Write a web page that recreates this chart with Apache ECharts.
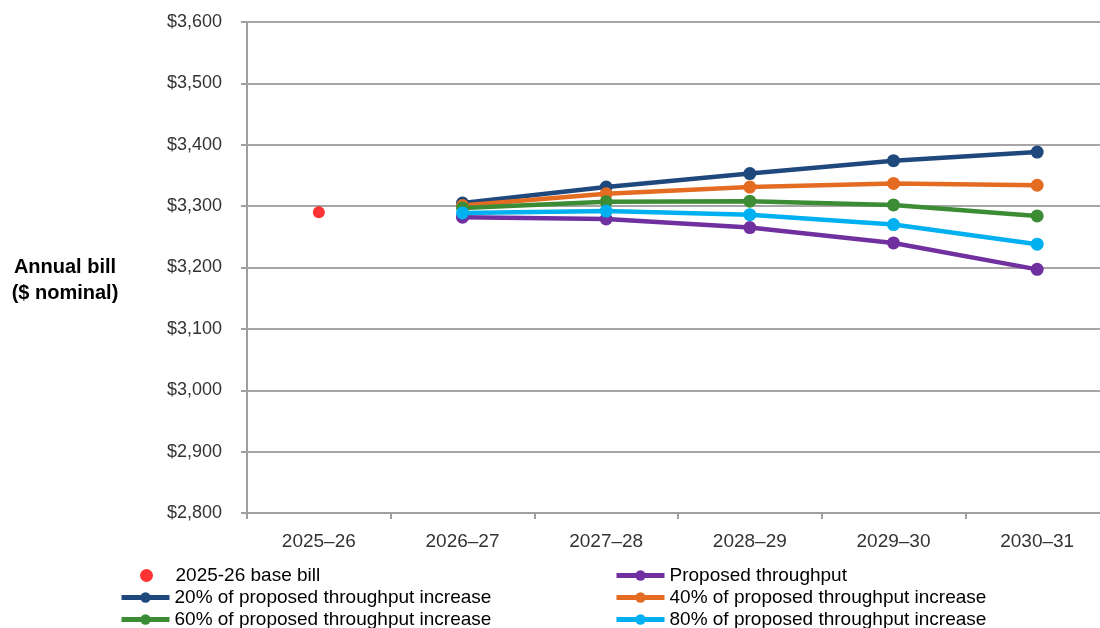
<!DOCTYPE html>
<html>
<head>
<meta charset="utf-8">
<script src="https://cdn.jsdelivr.net/npm/echarts@6/dist/echarts.min.js"></script>
<style>html,body{margin:0;padding:0;background:#fff;overflow:hidden;width:1100px;height:628px;}#c{width:1120px;height:628px;}</style>
</head>
<body>
<div id="c"></div>
<script>
const categories = ['2025–26','2026–27','2027–28','2028–29','2029–30','2030–31'];
const baseBill = [3290, null, null, null, null, null];
const proposed = [null, 3282, 3279, 3265, 3240, 3197];
const pct20 = [null, 3305, 3331, 3353, 3374, 3388];
const pct40 = [null, 3301, 3320, 3331, 3337, 3334];
const pct60 = [null, 3297, 3307, 3308, 3302, 3284];
const pct80 = [null, 3289, 3292, 3286, 3270, 3238];
const yTicks = [2800, 3600, 100];
const legendLeft = ['2025-26 base bill', '20% of proposed throughput increase', '60% of proposed throughput increase'];
const legendRight = ['Proposed throughput', '40% of proposed throughput increase', '80% of proposed throughput increase'];

const FONT = 'Liberation Sans';
const chart = echarts.init(document.getElementById('c'));
function lineSeries(name, data, color) {
  return {
    name, type: 'line', data, color,
    symbol: 'circle', symbolSize: 13,
    lineStyle: { width: 4.5, color },
    itemStyle: { color },
    connectNulls: false, animation: false, z: 3
  };
}
const rowTops = [561, 583, 605];
const legends = [];
function addLegend(name, left, top) {
  legends.push({
    left, top, data: [name],
    itemWidth: 48, itemHeight: 13,
    lineStyle: { width: 5 },
    textStyle: { fontFamily: FONT, fontSize: 19, color: '#000' },
    selectedMode: false
  });
}
legendLeft.forEach((n, i) => addLegend(n, i === 0 ? 135 : 114, rowTops[i]));
legendRight.forEach((n, i) => addLegend(n, 609, rowTops[i]));

chart.setOption({
  animation: false,
  grid: { left: 247, top: 22, height: 491, width: 862 },
  xAxis: {
    type: 'category', data: categories, boundaryGap: true,
    axisLine: { lineStyle: { color: '#a0a0a0', width: 2 } },
    axisTick: { show: true, length: 6, lineStyle: { color: '#a0a0a0', width: 2 } },
    axisLabel: { fontFamily: FONT, fontSize: 19, color: '#333', margin: 19 }
  },
  yAxis: {
    type: 'value', min: yTicks[0], max: yTicks[1], interval: yTicks[2],
    axisLine: { show: true, lineStyle: { color: '#a0a0a0', width: 2 } },
    axisTick: { show: true, length: 6, lineStyle: { color: '#a0a0a0', width: 2 } },
    splitLine: { lineStyle: { color: '#a6a6a6', width: 2 } },
    axisLabel: {
      fontFamily: FONT, fontSize: 18, color: '#333', margin: 25,
      formatter: v => '$' + v.toLocaleString('en-US')
    }
  },
  graphic: [{
    type: 'text', x: 65, y: 254,
    style: { text: 'Annual bill\n($ nominal)', font: 'bold 20px ' + FONT, fill: '#000', lineHeight: 26, align: 'center', verticalAlign: 'top' }
  }],
  legend: legends,
  series: [
    { name: '2025-26 base bill', type: 'scatter', data: baseBill, symbol: 'circle', symbolSize: 12, itemStyle: { color: '#ff0000' }, z: 4 },
    lineSeries('Proposed throughput', proposed, '#7030a0'),
    lineSeries('20% of proposed throughput increase', pct20, '#1f497d'),
    lineSeries('40% of proposed throughput increase', pct40, '#e46c22'),
    lineSeries('60% of proposed throughput increase', pct60, '#3c8c35'),
    lineSeries('80% of proposed throughput increase', pct80, '#00b0f0')
  ]
});
</script>
</body>
</html>
